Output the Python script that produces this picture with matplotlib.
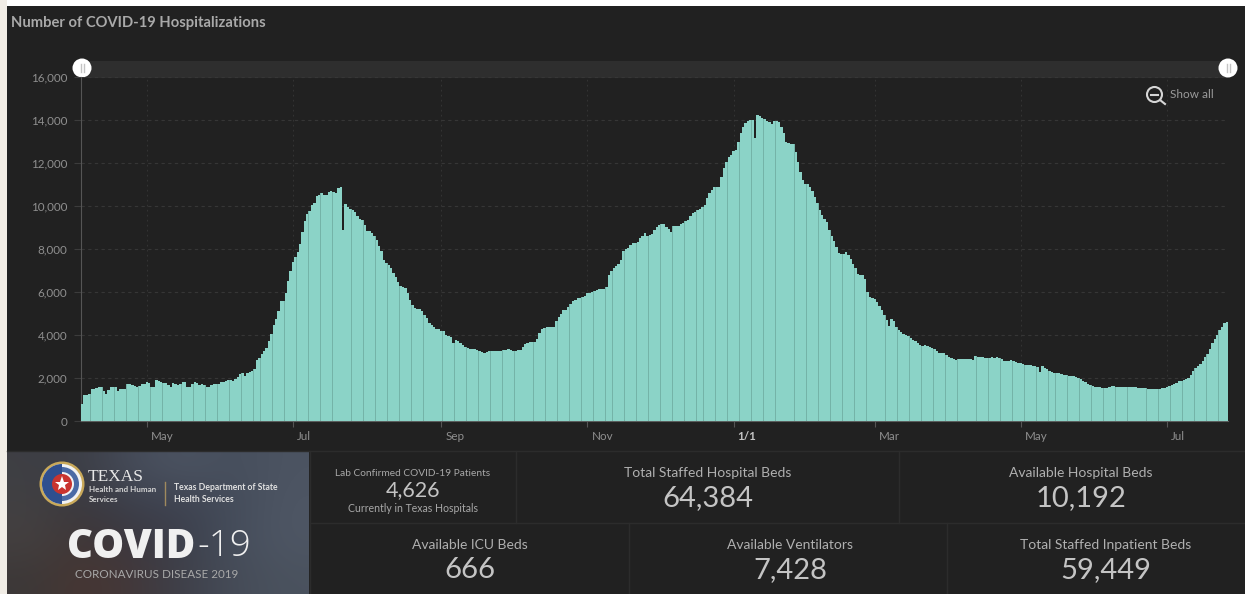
import numpy as np
import pandas as pd
import matplotlib
matplotlib.use("Agg")
import matplotlib.pyplot as plt
from matplotlib.patches import Circle, Rectangle, Wedge
from matplotlib.transforms import ScaledTranslation

plt.rcParams['font.family'] = ['Lato', 'DejaVu Sans']

# Daily hospitalizations
apr_20 = [800, 1190, 1190, 1240, 1510, 1510, 1540, 1580, 1570, 1400, 1250, 1450, 1570, 1570, 1560, 1400,
          1500, 1470, 1470, 1700, 1710, 1690, 1620, 1590, 1640, 1710, 1730]
may_20 = [1810, 1780, 1600, 1590, 1900, 1880, 1800, 1770, 1760, 1680, 1600, 1750, 1730, 1660, 1740, 1800,
          1810, 1590, 1590, 1730, 1800, 1790, 1660, 1710, 1680, 1600, 1580, 1660, 1700, 1720, 1740]
jun_20 = [1800, 1820, 1840, 1920, 1900, 1880, 1950, 2060, 2200, 2210, 2100, 2240, 2270, 2330, 2400, 2830,
          2950, 3130, 3270, 3400, 3700, 4050, 4450, 4750, 5100, 5560, 5580, 5950, 6530, 7000]
jul_20 = [7380, 7650, 7860, 8250, 8800, 9300, 9650, 9750, 10050, 10150, 10450, 10500, 10600, 10500, 10500,
          10640, 10680, 10650, 10600, 10850, 10900, 8900, 10080, 9950, 9850, 9830, 9700, 9550, 9400, 9370, 9100]
aug_20 = [8850, 8850, 8750, 8600, 8400, 8150, 7900, 7500, 7350, 7250, 7100, 6900, 6700, 6450, 6300, 6250,
          6200, 5950, 5650, 5400, 5250, 5200, 5200, 5100, 4920, 4780, 4560, 4470, 4350, 4270, 4260]
sep_20 = [4200, 4170, 3980, 3970, 3900, 3650, 3760, 3720, 3620, 3530, 3450, 3380, 3360, 3350, 3340, 3310,
          3270, 3210, 3160, 3190, 3260, 3260, 3260, 3260, 3260, 3260, 3280, 3300, 3370, 3280]
oct_20 = [3270, 3270, 3280, 3310, 3450, 3560, 3630, 3670, 3680, 3680, 3800, 4080, 4260, 4330, 4360, 4360,
          4350, 4360, 4640, 4820, 5000, 5140, 5150, 5300, 5430, 5590, 5650, 5700, 5710, 5770, 5800]
nov_20 = [5950, 5960, 6000, 6050, 6100, 6120, 6130, 6140, 6220, 6780, 6960, 7120, 7230, 7300, 7500, 7900,
          8000, 8060, 8200, 8260, 8270, 8320, 8500, 8620, 8740, 8620, 8640, 8720, 8900, 9020]
dec_20 = [9130, 9160, 9170, 9040, 8950, 8800, 9070, 9080, 9090, 9150, 9220, 9300, 9350, 9530, 9660, 9740,
          9830, 9880, 9950, 10050, 10350, 10600, 10740, 10900, 10900, 10900, 11360, 11750, 12060, 12300, 12370]
jan_21 = [12570, 12600, 13000, 13380, 13690, 13850, 13970, 14000, 13980, 13150, 14218, 14180, 14100, 14030,
          13950, 13900, 13830, 13950, 13950, 13900, 13680, 13400, 13000, 12920, 12880, 12870, 12520, 12050,
          11600, 11200, 11000]
feb_21 = [11000, 10880, 10700, 10400, 10150, 9800, 9600, 9400, 9250, 8900, 8600, 8350, 8100, 7800, 7750,
          7770, 7870, 7700, 7550, 7300, 7100, 6850, 6790, 6780, 6600, 6000, 5750, 5700]
mar_21 = [5680, 5550, 5350, 5150, 4950, 4700, 4400, 4750, 4650, 4350, 4230, 4150, 4060, 4000, 3950, 3880,
          3770, 3700, 3620, 3520, 3510, 3520, 3480, 3450, 3380, 3340, 3250, 3170, 3180, 3160, 3090]
apr_21 = [3000, 2940, 2880, 2820, 2880, 2900, 2890, 2900, 2880, 2870, 2860, 3040, 3000, 2970, 2970, 2950,
          2950, 2940, 3000, 2950, 2970, 2920, 2880, 2780, 2790, 2790, 2850, 2800, 2750, 2700]
may_21 = [2680, 2640, 2620, 2590, 2590, 2580, 2570, 2500, 2300, 2540, 2460, 2400, 2320, 2280, 2240, 2220,
          2240, 2180, 2150, 2130, 2110, 2080, 2080, 2060, 1990, 1940, 1870, 1800, 1730, 1680, 1630]
jun_21 = [1600, 1580, 1570, 1520, 1540, 1550, 1560, 1640, 1610, 1590, 1590, 1570, 1600, 1590, 1590, 1590,
          1580, 1560, 1540, 1550, 1540, 1530, 1510, 1500, 1490, 1480, 1470, 1510, 1530, 1540]
jul_21 = [1580, 1630, 1690, 1730, 1780, 1850, 1880, 1910, 1940, 2010, 2150, 2320, 2470, 2580, 2670, 2790,
          2970, 3120, 3330, 3640, 3830, 4010, 4250, 4390, 4560, 4626]

start_date = "2020-04-04"
y_ticks = [0, 2000, 4000, 6000, 8000, 10000, 12000, 14000, 16000]
month_ticks = ["2020-05-01", "2020-07-01", "2020-09-01", "2020-11-01", "2021-01-01", "2021-03-01",
               "2021-05-01", "2021-07-01"]
month_labels = ["May", "Jul", "Sep", "Nov", "1/1", "Mar", "May", "Jul"]

# name, value, centre x, label y, value y
stat_cards = [
    ("Total Staffed Hospital Beds", "64,384", 708, 473, 498),
    ("Available Hospital Beds", "10,192", 1081, 473, 498),
    ("Available ICU Beds", "666", 470, 545, 570),
    ("Available Ventilators", "7,428", 790, 545, 570),
    ("Total Staffed Inpatient Beds", "59,449", 1106, 545, 570),
]

# blurred photo behind the logo, rough colours
photo = np.array([
    [[62, 63, 68], [60, 62, 70], [70, 76, 90], [76, 84, 98], [70, 78, 92], [76, 84, 98]],
    [[66, 64, 66], [58, 56, 62], [60, 64, 76], [62, 66, 80], [68, 76, 90], [78, 86, 100]],
    [[68, 64, 64], [64, 54, 54], [60, 56, 64], [60, 64, 76], [70, 78, 92], [78, 86, 100]],
    [[60, 56, 56], [72, 54, 50], [66, 56, 58], [62, 64, 74], [70, 76, 88], [74, 82, 94]],
]) / 255.0

BG = "#212121"
TEAL = "#8bd3c7"
TEAL_DARK = "#74b3a8"
TICK_COL = "#8f8f8f"
W, H = 1245, 594

values = np.array(apr_20 + may_20 + jun_20 + jul_20 + aug_20 + sep_20 + oct_20 + nov_20 + dec_20
                  + jan_21 + feb_21 + mar_21 + apr_21 + may_21 + jun_21 + jul_21)
days = pd.date_range(start_date, periods=len(values), freq="D")

fig = plt.figure(figsize=(W / 100, H / 100), dpi=100, facecolor=BG)

# pixel-coordinate layer for the dashboard furniture
bg = fig.add_axes([0, 0, 1, 1], zorder=0)
bg.set_xlim(0, W)
bg.set_ylim(H, 0)
bg.axis('off')

ax = fig.add_axes([81 / W, 1 - 421 / H, 1147 / W, 344 / H], zorder=1)
ax.patch.set_alpha(0)

# darker bars underneath so the snapped bars on top leave faint seams
ax.bar(days, values, width=1.0, color=TEAL_DARK, linewidth=0, zorder=2)
ax.bar(days, values, width=0.92, color=TEAL, linewidth=0, snap=True, zorder=3)

ax.set_xlim(days[0] - pd.Timedelta(hours=12), days[-1] + pd.Timedelta(hours=12))
ax.set_ylim(0, 16000)
ax.set_yticks(y_ticks)
ax.set_yticklabels([f"{v:,}" for v in y_ticks], fontsize=8.4, color=TICK_COL)
ax.set_xticks(pd.to_datetime(month_ticks))
ax.set_xticklabels(month_labels, fontsize=8.4, color=TICK_COL, ha='left')
ax.tick_params(axis='y', length=5, width=0.8, color="#3c3c3c", pad=5)
ax.tick_params(axis='x', length=4, width=0.8, color="#555555", pad=3.5)

shift = ScaledTranslation(4 / 100, 0, fig.dpi_scale_trans)
for lab in ax.get_xticklabels():
    lab.set_transform(lab.get_transform() + shift)
    if lab.get_text() == "1/1":
        lab.set_fontweight('bold')
        lab.set_color("#c4c4c4")

ax.grid(axis='y', color="#363636", linewidth=0.8, linestyle=(0, (3, 3)), zorder=0)
ax.grid(axis='x', color="#333333", linewidth=0.8, linestyle=(0, (1.5, 3)), zorder=0)
ax.set_axisbelow(True)
for name in ['top', 'right']:
    ax.spines[name].set_visible(False)
ax.spines['left'].set_color("#555555")
ax.spines['bottom'].set_color("#5a5f5e")

# page edges
bg.add_patch(Rectangle((0, 0), W, 6, color="#ffffff", lw=0))
bg.add_patch(Rectangle((0, 0), 7, H, color="#f1ede6", lw=0))

bg.text(11, 22.5, "Number of COVID-19 Hospitalizations", fontsize=10.6, fontweight='bold', color="#a9a9a9",
        va='center', ha='left')

# zoom slider
bg.add_patch(Rectangle((81, 61), 1147, 17, color="#2e2e2e", lw=0))
for hx in (82, 1228):
    bg.add_patch(Circle((hx, 68), 9.5, color="white", lw=0, zorder=5))
    bg.plot([hx - 1.5, hx - 1.5], [64, 72], color="#c4c4c4", lw=1, zorder=6)
    bg.plot([hx + 1.5, hx + 1.5], [64, 72], color="#c4c4c4", lw=1, zorder=6)

# show all button
bg.add_patch(Circle((1154.5, 94.5), 7.5, fill=False, ec="#d6d6d6", lw=1.5))
bg.plot([1151, 1158], [94.5, 94.5], color="#d6d6d6", lw=1.5)
bg.plot([1160, 1165], [100, 104], color="#d6d6d6", lw=1.5)
bg.text(1170, 94, "Show all", fontsize=8.5, color="#9a9a9a", va='center', ha='left')

# card separators
sep_col = "#2c2c2c"
bg.plot([7, W], [451, 451], color=sep_col, lw=1)
bg.plot([310, W], [523, 523], color=sep_col, lw=1)
for sx, y0, y1 in [(310, 451, H), (516, 451, 523), (899, 451, 523), (629, 523, H), (947, 523, H)]:
    bg.plot([sx, sx], [y0, y1], color=sep_col, lw=1)

# logo panel
bg.imshow(photo, extent=(7, 309, H, 452), aspect='auto', interpolation='bicubic', zorder=1)
bg.set_xlim(0, W)
bg.set_ylim(H, 0)

seal_x, seal_y = 62, 484
bg.add_patch(Circle((seal_x, seal_y), 22.5, color="#c9a95a", lw=0, zorder=2))
bg.add_patch(Circle((seal_x, seal_y), 20, color="#f2f2f2", lw=0, zorder=2))
bg.add_patch(Wedge((seal_x, seal_y), 20, 90, 270, color="#2f4f8f", lw=0, zorder=2))
bg.add_patch(Wedge((seal_x, seal_y), 17, 270, 90, width=5, color="#4a6aa5", lw=0, zorder=2))
bg.add_patch(Circle((seal_x, seal_y), 10, color="#c9342f", lw=0, zorder=3))
bg.plot([seal_x], [seal_y], marker='*', ms=11, color="white", mew=0, zorder=4)

bg.text(88, 477, "TEXAS", family=['Liberation Serif'], fontsize=12.5, color="#e8e8e8", va='center', ha='left', zorder=4)
bg.text(89, 490, "Health and Human", fontsize=5.8, fontweight='bold', color="#d4d4d4", va='center', ha='left', zorder=4)
bg.text(89, 499, "Services", fontsize=5.8, fontweight='bold', color="#d4d4d4", va='center', ha='left', zorder=4)
bg.plot([165, 165], [482, 505], color="#a08a5e", lw=1, zorder=4)
bg.text(174, 487, "Texas Department of State", fontsize=6.2, fontweight='bold', color="#e0e0e0", va='center', ha='left', zorder=4)
bg.text(174, 499, "Health Services", fontsize=6.2, fontweight='bold', color="#e0e0e0", va='center', ha='left', zorder=4)

bg.text(67, 547, "COVID", family=['Open Sans'], fontsize=29, fontweight='heavy', color="#f0f0f0", va='center', ha='left', zorder=4)
bg.text(197, 547, "-19", family=['Open Sans'], fontsize=26.5, fontweight='light', color="#f0f0f0", va='center', ha='left', zorder=4)
bg.text(75, 574, "CORONAVIRUS DISEASE 2019", fontsize=8.4, color="#a8a8a8", va='center', ha='left', zorder=4)

# stat cards
bg.text(413, 473, "Lab Confirmed COVID-19 Patients", fontsize=7.3, color="#a8a8a8", ha='center', va='center')
bg.text(413, 490, "4,626", fontsize=15.5, color="#c4c4c4", ha='center', va='center')
bg.text(413, 508, "Currently in Texas Hospitals", fontsize=7.6, color="#a8a8a8", ha='center', va='center')
for name, val, cx, ly, vy in stat_cards:
    bg.text(cx, ly, name, fontsize=10, color="#b0b0b0", ha='center', va='center')
    bg.text(cx, vy, val, fontsize=21, color="#c4c4c4", ha='center', va='center')

fig.savefig("out.png", dpi=100, facecolor=fig.get_facecolor())
